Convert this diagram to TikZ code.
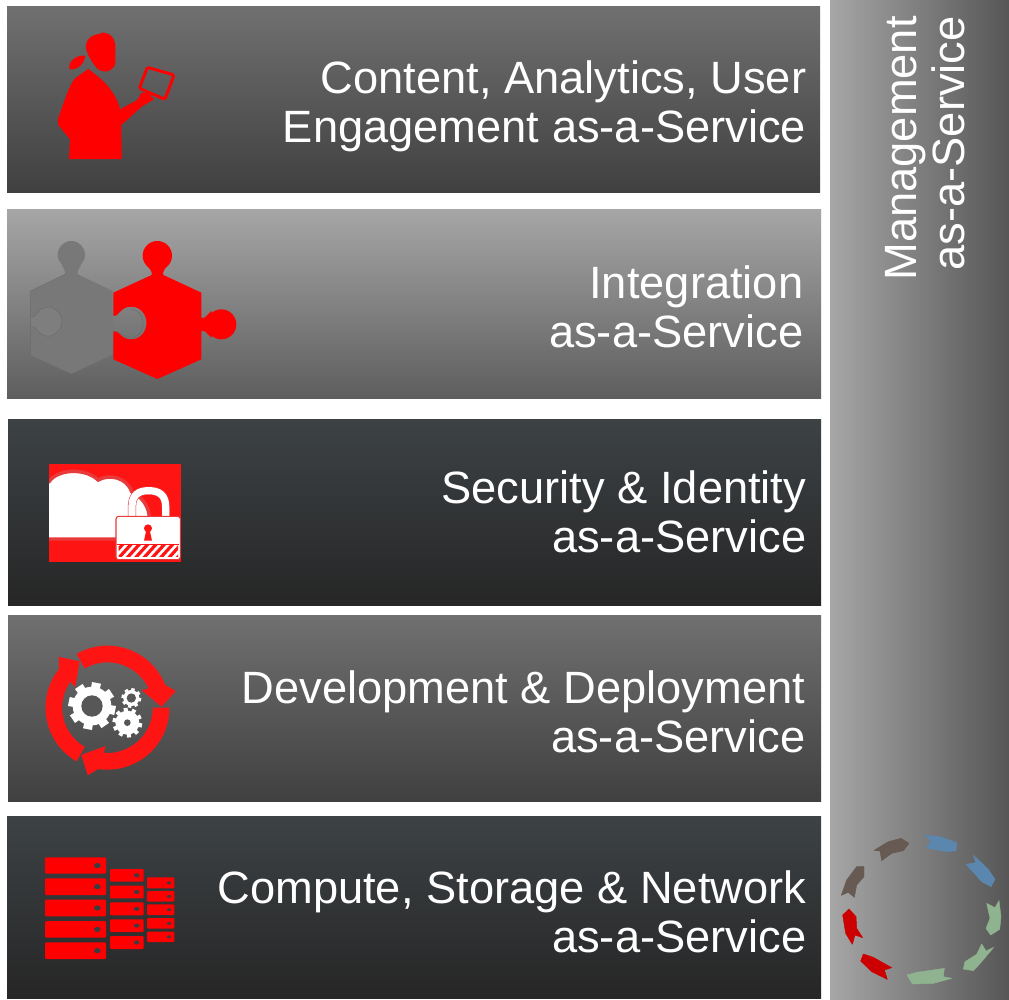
\documentclass[tikz,border=0pt]{standalone}
\usepackage{fontspec}
\setmainfont{Liberation Sans}
\definecolor{midA}{HTML}{707070}
\definecolor{midB}{HTML}{404040}
\definecolor{liteA}{HTML}{A6A6A6}
\definecolor{liteB}{HTML}{5E5E5E}
\definecolor{darkA}{HTML}{3D4245}
\definecolor{darkB}{HTML}{262626}
\definecolor{sideB}{HTML}{565656}
\definecolor{iconred}{HTML}{FF0000}
\definecolor{lockred}{HTML}{FF1414}
\definecolor{halo}{HTML}{E83A3A}
\definecolor{puzgray}{HTML}{787878}
\definecolor{puzhole}{HTML}{7E7E7E}
\definecolor{puzedge}{HTML}{6C6C6C}
\definecolor{gearhole}{HTML}{575757}
\definecolor{srvhole}{HTML}{3A3D3F}
\definecolor{ribblue}{HTML}{5B86AD}
\definecolor{ribgreen}{HTML}{8FB28F}
\definecolor{ribred}{HTML}{CC0000}
\definecolor{ribbrown}{HTML}{665A52}
\tikzset{
  midpanel/.style={top color=midA,bottom color=midB,draw=none},
  litepanel/.style={top color=liteA,bottom color=liteB,draw=none},
  darkpanel/.style={top color=darkA,bottom color=darkB,draw=none},
  lbl/.style={text=white,align=right,inner sep=0pt,font=\fontsize{33.95}{36.4}\selectfont},
  zm/.style 2 args={shift={(#1,#2)},x=0.25pt,y=-0.25pt},
  srv/.style={fill=iconred,rounded corners=0.8pt},
  srvh/.style={fill=srvhole},
  rib/.style={fill=#1,draw=#1,line width=0.35pt,line join=round},
}
\newcommand{\gearicon}[7]{% x y outer root hole teeth halfangle
  \begin{scope}[shift={(#1,#2)}]
    \fill[white] (0,0) circle[radius=#4];
    \foreach \k in {1,...,#6}{
      \pgfmathsetmacro{\a}{\k*360/#6+11}
      \fill[white] ({\a-#7*1.25}:#4*0.95) -- ({\a-#7}:#3) -- ({\a+#7}:#3) -- ({\a+#7*1.25}:#4*0.95) -- cycle;
    }
    \fill[gearhole] (0,0) circle[radius=#5];
  \end{scope}}
\newcommand{\srvrow}[6]{% x1 y1 x2 y2 holex rx
  \fill[srv] (#1,#2) rectangle (#3,#4);
  \fill[srvh] (#5,{(#2+#4)/2}) ellipse[x radius=#6,y radius=#6*0.78];}
\begin{document}
\begin{tikzpicture}[x=0.75pt,y=-0.75pt]
\useasboundingbox (0,0) rectangle (1009,999);
\fill[white] (0,0) rectangle (1009,999);
% panels
\shade[midpanel] (7,7) rectangle (820,192);
\shade[litepanel] (7,209) rectangle (821,398);
\shade[darkpanel] (8,419) rectangle (821,605);
\shade[midpanel] (8,615) rectangle (821,801);
\shade[darkpanel] (7,816) rectangle (821,998);
\shade[left color=liteA,right color=sideB] (830,0) rectangle (1009,999);
% labels
\node[lbl,anchor=east] (content) at (806.5,106.5) {Content, Analytics, User\\Engagement as-a-Service};
\node[lbl,anchor=east] (integration) at (803.5,307) {Integration\\as-a-Service};
\node[lbl,anchor=east] (security) at (806.5,512) {Security \& Identity\\as-a-Service};
\node[lbl,anchor=east] (development) at (805.5,712) {Development \& Deployment\\as-a-Service};
\node[lbl,anchor=east] (compute) at (806.5,912) {Compute, Storage \& Network\\as-a-Service};
\node[lbl,anchor=east,rotate=90] (management) at (925,16) {Management\\as-a-Service};
% person
\begin{scope}[zm={30}{10}]
  \fill[iconred] (175,177) -- (135,205) .. controls (120,225) and (112,245) .. (83,330) -- (85,345) -- (120,388) -- (117,447) -- (275,447) -- (274,345) -- (335,290) -- (372,268) -- (355,250) -- (335,248) -- (322,270) -- (270,298) .. controls (262,262) and (240,230) .. (205,200) -- cycle;
  \fill[iconred] (212,68) .. controls (240,66) and (258,85) .. (256,115) -- (256,160) .. controls (252,182) and (225,192) .. (205,178) .. controls (190,165) and (172,135) .. (168,115) .. controls (165,90) and (185,72) .. (212,72) -- cycle;
  \fill[iconred] (118,178) .. controls (115,155) and (135,135) .. (166,137) .. controls (162,162) and (145,180) .. (118,178) -- cycle;
  \draw[iconred,line width=2.2pt,rounded corners=1.2pt] (352,172) -- (432,195) -- (405,268) -- (328,235) -- cycle;
\end{scope}
% puzzle
\begin{scope}[zm={10}{220}]
  \fill[puzgray] (184,104) circle[radius=41];
  \fill[puzgray] (62,213) -- (165,163) .. controls (168,155) and (160,145) .. (155,135) -- (213,135) .. controls (208,145) and (200,155) .. (203,163) -- (308,213) -- (308,405) -- (184,462) -- (62,407) -- cycle;
  \fill[puzhole,draw=puzedge,line width=0.4pt] (62,322) .. controls (72,318) and (75,322) .. (85,335) .. controls (100,352) and (125,355) .. (143,335) .. controls (160,318) and (160,290) .. (143,275) .. controls (125,255) and (100,258) .. (85,275) .. controls (75,288) and (72,292) .. (62,288);
  \draw[puzedge,line width=0.3pt] (62,213) -- (165,163);
  \draw[puzedge,line width=0.3pt] (62,213) -- (62,407) -- (184,462) -- (308,405);
  \fill[iconred] (442,107) circle[radius=44];
  \fill[iconred] (634,313) circle[radius=45];
  \fill[iconred] (310,218) -- (425,165) .. controls (428,155) and (418,145) .. (410,135) -- (474,135) .. controls (466,145) and (456,155) .. (460,165) -- (574,218) -- (574,293) .. controls (585,298) and (590,285) .. (605,272) -- (605,354) .. controls (590,341) and (585,328) .. (574,333) -- (574,418) -- (442,477) -- (310,418) -- (310,333) .. controls (325,325) and (330,358) .. (362,358) .. controls (425,358) and (425,260) .. (362,260) .. controls (330,260) and (325,293) .. (310,288) -- cycle;
  \draw[puzedge,line width=0.4pt] (310,335) .. controls (325,328) and (335,352) .. (362,352) .. controls (412,352) and (412,268) .. (362,268);
\end{scope}
% cloud and lock
\begin{scope}[zm={30}{450}]
  \fill[lockred] (57,42) rectangle (453,335);
  \begin{scope}
    \clip (57,42) rectangle (453,335);
    \fill[white,draw=halo,line width=2.6pt] (40,267) -- (40,100) -- (57,95) .. controls (80,60) and (160,50) .. (205,90) .. controls (235,72) and (290,80) .. (305,125) .. controls (335,140) and (360,170) .. (358,210) -- (358,267) -- cycle;
  \end{scope}
  \draw[halo,line width=6.2pt,line cap=butt] (306,205) -- (306,170) .. controls (306,135) and (325,122) .. (356,122) .. controls (387,122) and (407,135) .. (407,170) -- (407,205);
  \draw[white,line width=5.4pt,line cap=butt] (306,205) -- (306,170) .. controls (306,135) and (325,122) .. (356,122) .. controls (387,122) and (407,135) .. (407,170) -- (407,205);
  \fill[white,draw=halo,line width=0.8pt,rounded corners=2pt] (258,199) rectangle (451,329);
  \begin{scope}
    \clip (266,286) rectangle (444,320);
    \foreach \q in {0,1,...,9}{
      \draw[lockred,line width=2.4pt] ({240+\q*25},325) -- ({280+\q*25},281);
    }
  \end{scope}
  \draw[lockred,line width=0.6pt] (262,283) -- (447,283);
  \fill[lockred] (354,235) circle[radius=12];
  \fill[lockred] (349,240) -- (359,240) -- (366,272) -- (342,272) -- cycle;
\end{scope}
% cycle arrows and gears
\begin{scope}[zm={30}{635}]
  \begin{scope}[shift={(232.5,218)}]
    \foreach \r in {0,120,240}{
      \fill[lockred] (\r-120:186) arc[start angle=\r-120,end angle=\r-21.6,radius=186] -- (\r-13.7:211) -- (\r-1:162) -- (\r-27.5:115) -- (\r-25:136) arc[start angle=\r-25,end angle=\r-120,radius=136] -- cycle;
    }
  \end{scope}
  \gearicon{186}{213}{72}{58}{32}{8}{11}
  \gearicon{304}{189}{30}{24}{14}{8}{10}
  \gearicon{292}{263}{45}{36}{10}{10}{8}
\end{scope}
% servers
\begin{scope}[zm={30}{845}]
  \srvrow{45}{37}{228}{86}{202}{10}
  \srvrow{45}{100}{228}{150}{202}{10}
  \srvrow{45}{164}{228}{214}{202}{10}
  \srvrow{45}{228}{228}{278}{202}{10}
  \srvrow{45}{292}{228}{342}{202}{10}
  \srvrow{240}{72}{341}{110}{320}{8}
  \srvrow{240}{122}{341}{160}{320}{8}
  \srvrow{240}{172}{341}{211}{320}{8}
  \srvrow{240}{223}{341}{261}{320}{8}
  \srvrow{240}{273}{341}{312}{320}{8}
  \srvrow{351}{97}{433}{130}{417}{6}
  \srvrow{351}{138}{433}{170}{417}{6}
  \srvrow{351}{178}{433}{210}{417}{6}
  \srvrow{351}{219}{433}{251}{417}{6}
  \srvrow{351}{260}{433}{291}{417}{6}
\end{scope}
% management ribbons
\begin{scope}[zm={825}{820}]
  \path[rib=ribblue] (297,46) -- (345,50) -- (395,68) -- (393,92) -- (365,95) -- (303,84) -- (318,62) -- cycle;
  \path[rib=ribblue] (445,105) -- (490,148) -- (510,178) -- (498,200) -- (470,185) -- (423,133) -- (452,128) -- cycle;
  \path[rib=ribgreen] (522,242) -- (528,290) -- (524,328) -- (497,345) -- (483,325) -- (495,295) -- (485,250) -- (510,263) -- cycle;
  \path[rib=ribgreen] (506,382) -- (470,425) -- (445,452) -- (415,447) -- (420,425) -- (455,403) -- (470,372) -- (483,393) -- cycle;
  \path[rib=ribgreen] (380,475) -- (325,490) -- (262,492) -- (246,465) -- (275,457) -- (358,445) -- (355,470) -- cycle;
  \path[rib=ribred] (115,402) -- (145,412) -- (200,443) -- (178,450) -- (187,478) -- (140,455) -- (107,423) -- cycle;
  \path[rib=ribred] (72,267) -- (93,290) -- (95,325) -- (113,353) -- (90,345) -- (82,373) -- (62,340) -- (53,285) -- cycle;
  \path[rib=ribbrown] (117,140) -- (117,170) -- (95,195) -- (88,232) -- (70,217) -- (49,226) -- (65,180) -- (95,140) -- cycle;
  \path[rib=ribbrown] (228,55) -- (252,70) -- (235,92) -- (200,100) -- (170,122) -- (165,93) -- (147,91) -- (190,65) -- cycle;
\end{scope}
\end{tikzpicture}
\end{document}
